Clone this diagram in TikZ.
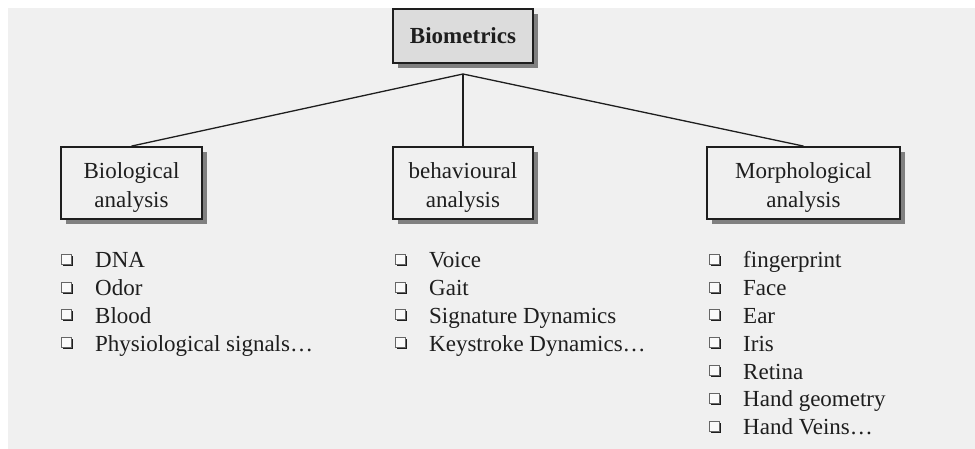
\documentclass[tikz,border=0pt]{standalone}
\usepackage{fontspec}
\setmainfont{Liberation Serif}
\usepackage{tikz}
\usetikzlibrary{shadows,positioning}
\definecolor{bggray}{HTML}{F0F0F0}
\definecolor{rootgray}{HTML}{DCDCDC}
\definecolor{shadegray}{HTML}{808080}
\definecolor{ink}{HTML}{1E1E1E}
\tikzstyle{box}=[draw=ink, line width=1.8pt, fill=bggray, align=center, inner sep=0pt, text=ink,
  font=\fontsize{23}{29}\selectfont,
  drop shadow={shadow xshift=5pt, shadow yshift=-5pt, fill=shadegray, opacity=1}]
\tikzstyle{root}=[box, fill=rootgray, font=\fontsize{23}{29}\selectfont\bfseries]
\tikzstyle{item}=[anchor=base west, inner sep=0pt, text=ink, font=\fontsize{23}{28}\selectfont]
\tikzstyle{sq}=[draw=gray!80!black, fill=white!96!gray, line width=0.9pt, minimum size=10pt, inner sep=0pt,
  drop shadow={shadow xshift=1.5pt, shadow yshift=-1.5pt, fill=ink, opacity=1}]
\tikzstyle{link}=[draw=ink, line width=1.3pt]
\newcommand{\twolines}[2]{\rule{0pt}{25pt}#1\\#2}

\begin{document}
\begin{tikzpicture}[x=1pt, y=-1pt]

	\useasboundingbox (0,0) rectangle (975,449);
	\fill[bggray] (8,8) rectangle (975,449);

	% top of the tree
	\node[root, minimum width=140pt, minimum height=54pt] (biometrics) at (463,36) {Biometrics};
	\coordinate (hub) at (463,74);

	% the three families
	\node[box, minimum width=141pt, minimum height=72pt] (bio) at (131.5,183) {\twolines{Biological}{analysis}};
	\node[box, minimum width=140pt, minimum height=72pt] (behav) at (463,183) {\twolines{behavioural}{analysis}};
	\node[box, minimum width=193pt, minimum height=72pt] (morph) at (803.5,183) {\twolines{Morphological}{analysis}};

	\draw[link] (bio.north) -- (hub) -- (morph.north);
	\draw[link] (hub) -- (behav.north);

	% lists under each box
	\foreach \txt [count=\i] in {DNA, Odor, Blood, Physiological signals…}{
		\node[item] (bio-\i) at (95, 240+27.8*\i) {\txt};
		\node[sq] (bio-sq\i) at ([xshift=-29pt, yshift=8.5pt]bio-\i.base west) {};
	}
	\foreach \txt [count=\i] in {Voice, Gait, Signature Dynamics, Keystroke Dynamics…}{
		\node[item] (behav-\i) at (429, 240+27.8*\i) {\txt};
		\node[sq] (behav-sq\i) at ([xshift=-29pt, yshift=8.5pt]behav-\i.base west) {};
	}
	\foreach \txt [count=\i] in {fingerprint, Face, Ear, Iris, Retina, Hand geometry, Hand Veins…}{
		\node[item] (morph-\i) at (743, 240+27.8*\i) {\txt};
		\node[sq] (morph-sq\i) at ([xshift=-29pt, yshift=8.5pt]morph-\i.base west) {};
	}

\end{tikzpicture}
\end{document}
